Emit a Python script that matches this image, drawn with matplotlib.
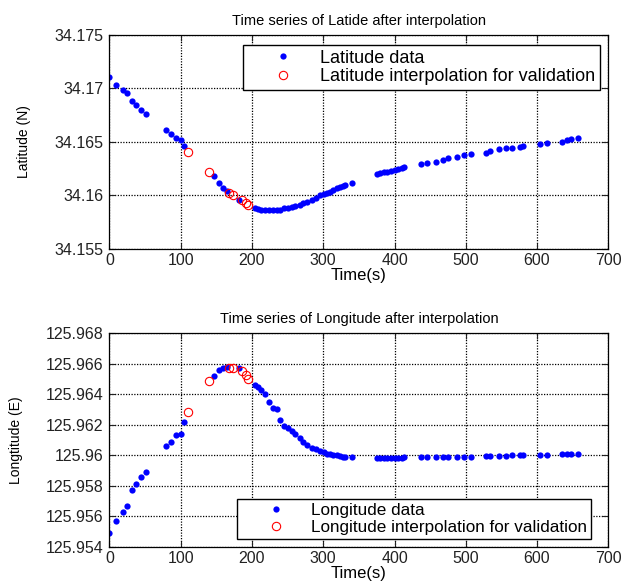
import numpy as np
import matplotlib
matplotlib.use("Agg")
import matplotlib.pyplot as plt
from matplotlib.ticker import FuncFormatter, MultipleLocator

plt.rcParams['font.family'] = ['Liberation Sans', 'DejaVu Sans']
plt.rcParams['font.size'] = 10

# GPS samples: time (s), latitude (N), longitude (E)
t_data = [0, 9, 19, 25, 32, 37, 44, 51, 79, 86, 93, 100, 105,
          146, 154, 160, 165, 182,
          204, 208, 213, 218, 224, 230, 235, 240, 245, 250, 256, 260,
          267, 272, 277, 284, 290, 296, 301, 305, 310, 314, 319, 324,
          328, 331, 341,
          375, 380, 385, 390, 395, 400, 405, 410, 414,
          437, 446, 458, 468, 475, 488, 497, 507,
          528, 534, 546, 557, 565, 576, 581,
          604, 614, 635, 642, 648, 657]

lat_data = [34.1711, 34.1703, 34.1699, 34.1696, 34.1688, 34.1685, 34.1680, 34.1676,
            34.1661, 34.1657, 34.1654, 34.1652, 34.1646,
            34.1618, 34.1612, 34.1607, 34.1604, 34.1596,
            34.1588, 34.1587, 34.1586, 34.1586, 34.1586, 34.1586, 34.1586, 34.1586,
            34.1588, 34.1588, 34.1589, 34.1590,
            34.1591, 34.1593, 34.1594, 34.1596, 34.1598, 34.1600, 34.1601, 34.1602,
            34.1603, 34.1605, 34.1607, 34.1608,
            34.1609, 34.1610, 34.1612,
            34.1620, 34.1621, 34.1622, 34.1622, 34.1623, 34.1624, 34.1625, 34.1626, 34.1627,
            34.1629, 34.1630, 34.1631, 34.1633, 34.1635, 34.1636, 34.1638, 34.1639,
            34.1640, 34.1642, 34.1643, 34.1644, 34.1644, 34.1645, 34.1646,
            34.1648, 34.1649, 34.1650, 34.1652, 34.1653, 34.1654]

lon_data = [125.9549, 125.9557, 125.9563, 125.9567, 125.9577, 125.9581, 125.9586, 125.9589,
            125.9606, 125.9609, 125.9613, 125.9614, 125.9622,
            125.9652, 125.9656, 125.9657, 125.9658, 125.9657,
            125.9646, 125.9645, 125.9643, 125.9640, 125.9635, 125.9631, 125.9630, 125.9623,
            125.9619, 125.9618, 125.9616, 125.9614,
            125.9611, 125.9609, 125.9607, 125.9605, 125.9604, 125.9603, 125.9602, 125.9601,
            125.9601, 125.9600, 125.9600, 125.95995,
            125.9599, 125.9599, 125.95987,
            125.9598, 125.9598, 125.9598, 125.9598, 125.9598, 125.95982, 125.95983, 125.95985, 125.95988,
            125.95988, 125.95988, 125.95988, 125.9599, 125.9599, 125.9599, 125.9599, 125.9599,
            125.95995, 125.95995, 125.95997, 125.95998, 125.9600, 125.96002, 125.96002,
            125.9600, 125.9600, 125.96008, 125.9601, 125.9601, 125.9601]

# points held out and re-estimated by interpolation
t_interp = [110, 139, 168, 173, 186, 191, 195]
lat_interp = [34.1641, 34.1622, 34.1602, 34.1600, 34.1596, 34.1593, 34.1591]
lon_interp = [125.96286, 125.96488, 125.96573, 125.96573, 125.96552, 125.96525, 125.96500]

fig = plt.figure(figsize=(6.31, 5.82), dpi=100)
ax1 = fig.add_axes([0.1735, 0.5722, 0.7905, 0.3677])
ax2 = fig.add_axes([0.1735, 0.0601, 0.7905, 0.3677])

legend_kw = dict(borderaxespad=0, fancybox=False, edgecolor='black', framealpha=1,
                 handlelength=4.0, handletextpad=0.05, labelspacing=0.1,
                 borderpad=0.25)


def style(ax, ylo, yhi, ystep):
    ax.set_xlim(0, 700)
    ax.set_ylim(ylo, yhi)
    ax.xaxis.set_major_locator(MultipleLocator(100))
    ax.yaxis.set_major_locator(MultipleLocator(ystep))
    ax.yaxis.set_major_formatter(FuncFormatter(lambda v, p: f"{v:.6g}"))
    ax.tick_params(direction='in', top=True, right=True, length=4, width=0.8,
                   labelsize=11.5, colors='#222222')
    ax.tick_params(axis='y', pad=4.5)
    ax.tick_params(axis='x', pad=3)
    ax.grid(True, color='black', linestyle=(0, (1, 1.2)), linewidth=0.9)
    for s in ax.spines.values():
        s.set_linewidth(0.9)


# latitude panel
ax1.plot(t_data, lat_data, 'o', color='blue', markersize=4.5, markeredgewidth=0,
         label='Latitude data')
ax1.plot(t_interp, lat_interp, 'o', markerfacecolor='none', markeredgecolor='red',
         markersize=6, markeredgewidth=0.8, label='Latitude interpolation for validation')
style(ax1, 34.155, 34.175, 0.005)
ax1.set_title('Time series of Latide after interpolation', fontsize=10.5, pad=7)
ax1.set_xlabel('Time(s)', fontsize=12)
ax1.set_ylabel('Latitude (N)')
ax1.xaxis.set_label_coords(0.5, -0.09)
ax1.yaxis.set_label_coords(-0.157, 0.5)
ax1.legend(loc='upper right', bbox_to_anchor=(0.983, 0.953), fontsize=13, **legend_kw)

# longitude panel
ax2.plot(t_data, lon_data, 'o', color='blue', markersize=4.5, markeredgewidth=0,
         label='Longitude data')
ax2.plot(t_interp, lon_interp, 'o', markerfacecolor='none', markeredgecolor='red',
         markersize=6, markeredgewidth=0.8, label='Longitude interpolation for validation')
style(ax2, 125.954, 125.968, 0.002)
ax2.set_title('Time series of Longitude after interpolation', fontsize=10.5, pad=7)
ax2.set_xlabel('Time(s)', fontsize=12)
ax2.set_ylabel('Longtitude (E)')
ax2.xaxis.set_label_coords(0.5, -0.09)
ax2.yaxis.set_label_coords(-0.173, 0.5)
ax2.legend(loc='lower right', bbox_to_anchor=(0.965, 0.037), fontsize=12.3, **legend_kw)

fig.savefig('out.png', dpi=100, facecolor='white')
